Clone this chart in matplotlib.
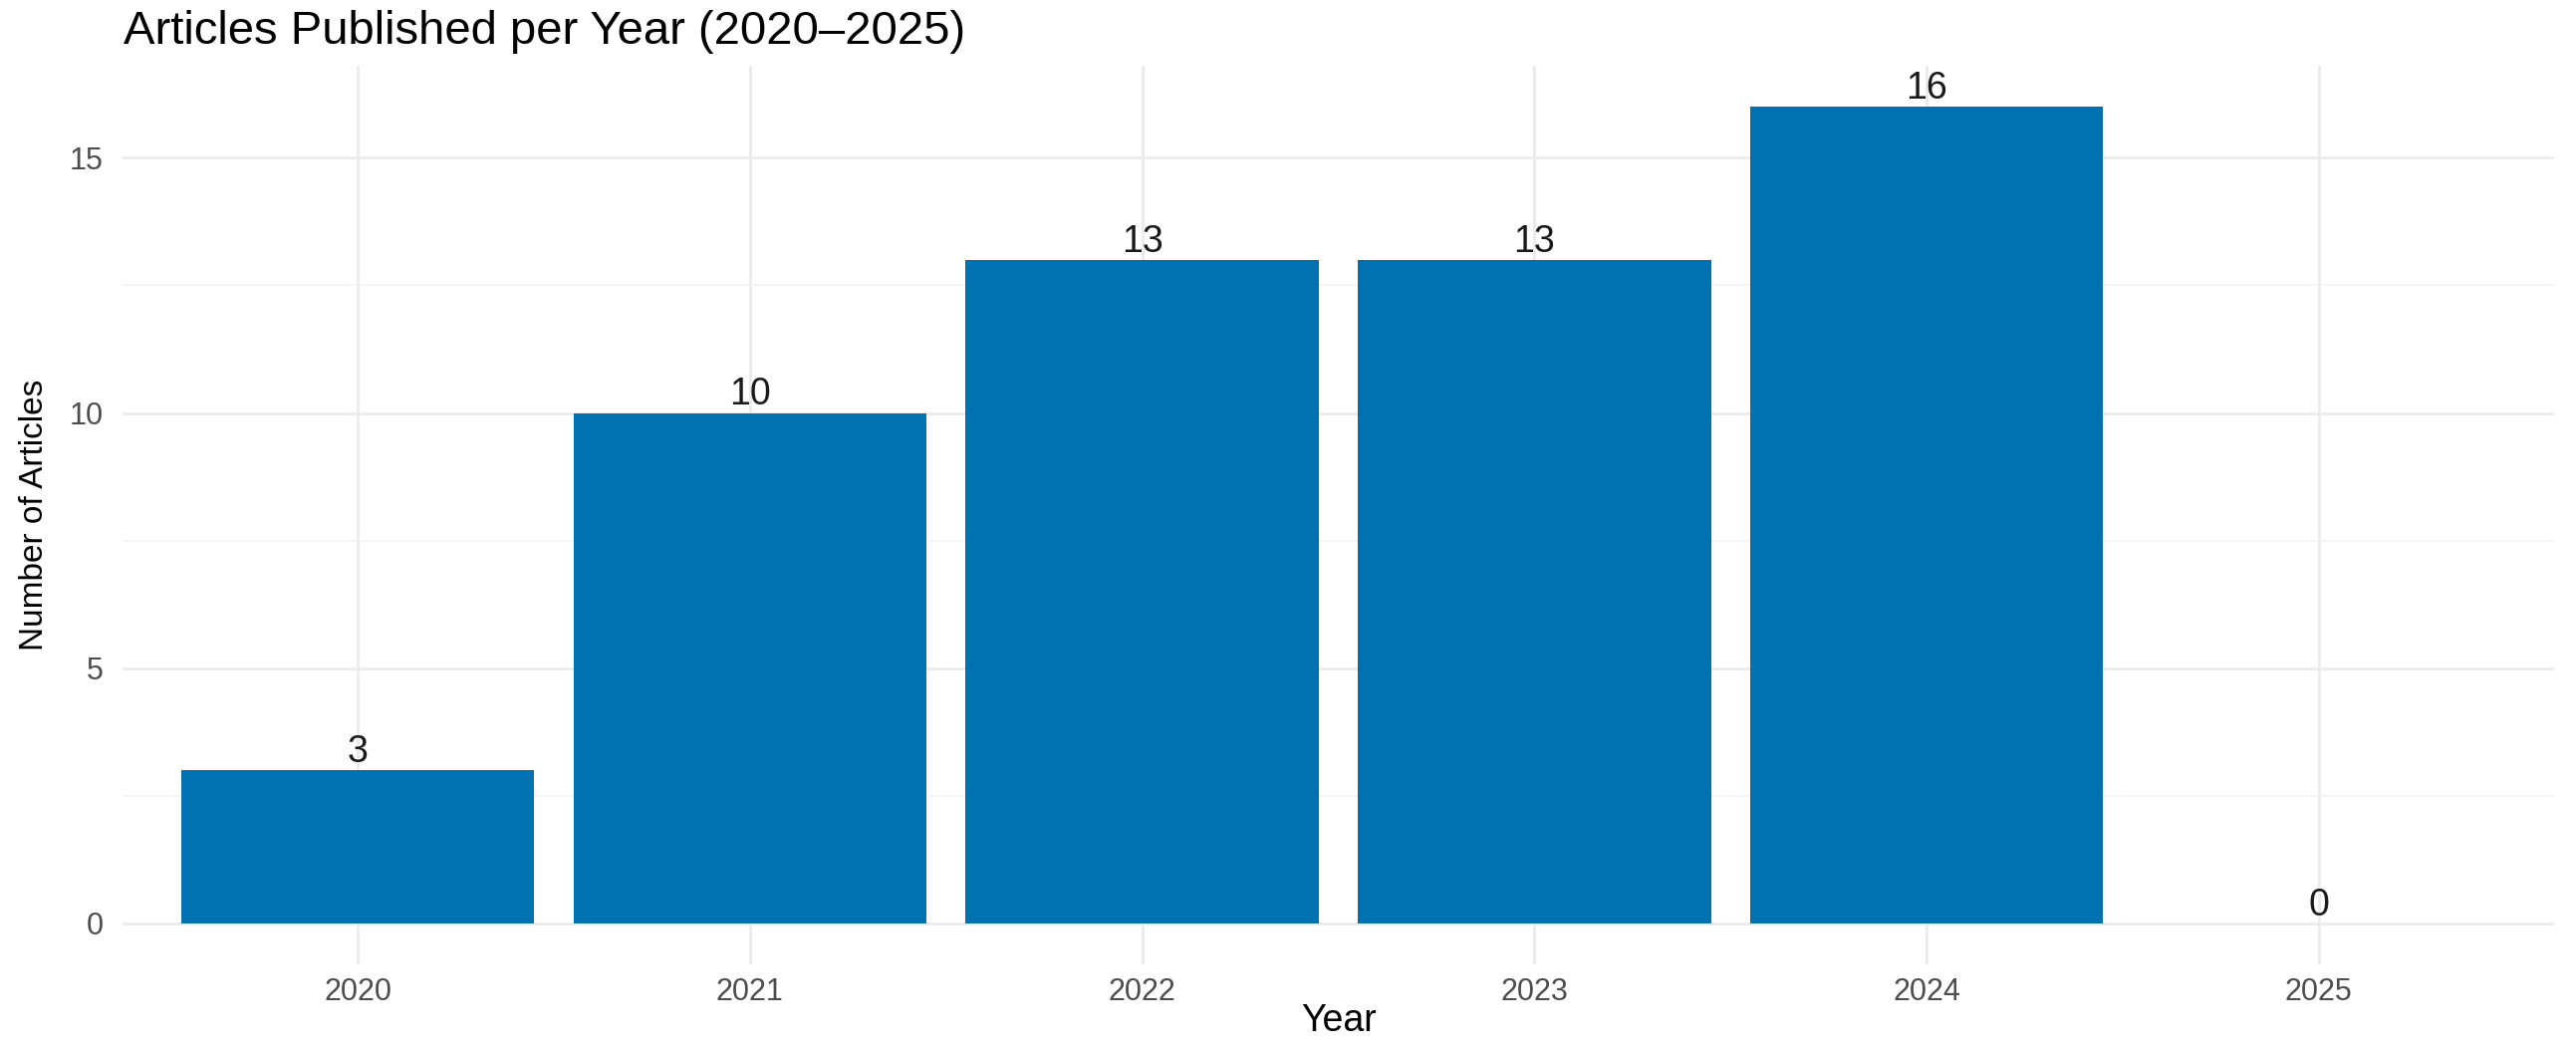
import matplotlib
matplotlib.use("Agg")
import matplotlib.pyplot as plt
import numpy as np

# Data
years = ["2020", "2021", "2022", "2023", "2024", "2025"]
articles = [3, 10, 13, 13, 16, 0]
y_ticks = [0, 5, 10, 15]
y_minor = [2.5, 7.5, 12.5]

title = "Articles Published per Year (2020\u20132025)"
x_title = "Year"
y_title = "Number of Articles"

plt.rcParams["font.family"] = ["Liberation Sans", "DejaVu Sans"]

W, H, DPI = 2586, 1054, 100
fig = plt.figure(figsize=(W / DPI, H / DPI), dpi=DPI)
fig.patch.set_facecolor("white")

left, right = 123 / W, 2564 / W
bottom, top = 1 - 968 / H, 1 - 66 / H
ax = fig.add_axes([left, bottom, right - left, top - bottom])

x = np.arange(len(years))
ax.bar(x, articles, width=0.9, color="#0072B2", edgecolor="none", zorder=2)

for xi, v in zip(x, articles):
    ax.annotate(str(v), (xi, v), xytext=(0, 8), textcoords="offset pixels",
                ha="center", va="baseline", fontsize=27, color="#1a1a1a", zorder=3)

ax.set_xlim(-0.6, len(years) - 0.4)
ax.set_ylim(-0.8, 16.8)
ax.set_xticks(x)
ax.set_xticklabels(years)
ax.set_yticks(y_ticks)
ax.set_yticks(y_minor, minor=True)

ax.grid(True, which="major", color="#EBEBEB", linewidth=2.0, zorder=0)
ax.grid(True, which="minor", axis="y", color="#F2F2F2", linewidth=1.2, zorder=0)
ax.set_axisbelow(True)

for s in ax.spines.values():
    s.set_visible(False)

ax.tick_params(axis="x", which="both", length=0, pad=9, labelsize=22, labelcolor="#4D4D4D")
ax.tick_params(axis="y", which="both", length=0, pad=14, labelsize=22, labelcolor="#4D4D4D")

fig.text(124 / W, 1 - 44 / H, title, ha="left", va="baseline", fontsize=34, color="black")
fig.text((left + right) / 2, 1 - 1035 / H, x_title, ha="center", va="baseline", fontsize=27, color="black")
fig.text(35 / W, (bottom + top) / 2, y_title, ha="center", va="center", rotation=90, fontsize=24, color="black")

fig.savefig("out.png", dpi=DPI, facecolor="white")
